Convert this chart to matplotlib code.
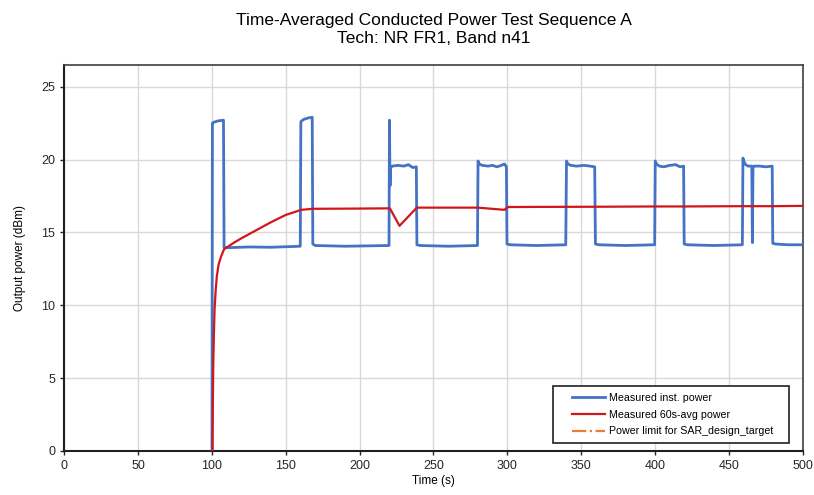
import matplotlib
matplotlib.use("Agg")
import matplotlib.pyplot as plt
from matplotlib.legend_handler import HandlerLine2D

plt.rcParams['font.family'] = ['Liberation Sans', 'DejaVu Sans']

# measured instantaneous power (time in s, power in dBm)
inst_t = [100, 100.3, 101, 104, 107.8, 108.2, 110, 125, 140, 159.8,
          160.2, 162, 165, 167.9, 168.3, 170, 190, 219.9,
          220.2, 220.6, 221, 221.5, 222, 226, 230, 233, 236, 238.4,
          238.8, 241, 260, 279.8,
          280.2, 281, 283, 287, 290, 293, 296, 298, 299.4,
          299.8, 302, 320, 339.6,
          340.1, 341, 343, 347, 352, 356, 359.2,
          359.7, 362, 380, 399.8,
          400.2, 401, 403, 406, 410, 414, 417, 419.4,
          419.8, 422, 440, 459.2,
          459.6, 460.5, 461.5, 463, 465.6, 466, 466.4, 467, 471, 475, 479.4,
          479.8, 482, 490, 500]
inst_p = [0, 22.5, 22.55, 22.65, 22.7, 13.95, 13.95, 14.0, 13.98, 14.05,
          22.6, 22.75, 22.85, 22.9, 14.2, 14.1, 14.05, 14.1,
          22.7, 18.2, 19.4, 19.5, 19.55, 19.6, 19.55, 19.65, 19.45, 19.5,
          14.15, 14.1, 14.05, 14.1,
          19.9, 19.7, 19.6, 19.55, 19.6, 19.5, 19.6, 19.7, 19.5,
          14.2, 14.15, 14.1, 14.15,
          19.9, 19.7, 19.6, 19.55, 19.6, 19.55, 19.5,
          14.2, 14.15, 14.1, 14.15,
          19.9, 19.7, 19.55, 19.5, 19.6, 19.65, 19.5, 19.55,
          14.2, 14.15, 14.1, 14.15,
          20.1, 19.8, 19.65, 19.55, 19.55, 14.3, 19.5, 19.55, 19.55, 19.5, 19.55,
          14.25, 14.2, 14.15, 14.15]

# measured 60s-average power
avg_t = [100.4, 100.6, 100.9, 101.3, 101.8, 102.5, 103.3, 104.5, 106, 108.2,
         115, 120, 130, 140, 150, 160.5, 168.3, 190, 220.5,
         227, 238.7, 260, 280, 298, 300.5, 320, 360, 400, 420, 460, 480, 500]
avg_p = [0, 3.5, 6, 8, 9.8, 11, 12, 12.8, 13.3, 13.85,
         14.3, 14.6, 15.15, 15.7, 16.2, 16.55, 16.62, 16.63, 16.65,
         15.45, 16.7, 16.7, 16.7, 16.55, 16.74, 16.75, 16.76, 16.78, 16.78, 16.8, 16.8, 16.82]

xticks = list(range(0, 501, 50))
yticks = list(range(0, 26, 5))

fig = plt.figure(figsize=(8.14, 4.95), dpi=100, facecolor='w')
ax = fig.add_axes([0.079, 0.089, 0.907, 0.780])

ax.plot(inst_t, inst_p, color='#4472C4', lw=2.0, label='Measured inst. power', zorder=3)
ax.plot(avg_t, avg_p, color='#D0161B', lw=1.6, label='Measured 60s-avg power', zorder=4)
ax.plot([], [], color='#ED7D31', lw=1.6, ls='-.', label='Power limit for SAR_design_target')

ax.set_xlim(0, 500)
ax.set_ylim(0, 26.5)
ax.set_xticks(xticks)
ax.set_yticks(yticks)
ax.grid(True, color='#d9d9d9', lw=1)
ax.set_axisbelow(True)
ax.tick_params(labelsize=9, length=3, width=1, colors='#262626', direction='out')

for s in ['left', 'bottom']:
    ax.spines[s].set_color('#202020')
    ax.spines[s].set_linewidth(1.5)
for s in ['top', 'right']:
    ax.spines[s].set_color('#404040')
    ax.spines[s].set_linewidth(1.2)

ax.set_xlabel('Time (s)', fontsize=8.5, labelpad=2)
ax.set_ylabel('Output power (dBm)', fontsize=8.5, labelpad=11)
ax.set_title('Time-Averaged Conducted Power Test Sequence A\nTech: NR FR1, Band n41',
             fontsize=12.5, pad=16, linespacing=1.25)

# legend box stretched to the reference size, handles shifted right
leg = ax.legend(loc='lower left', bbox_to_anchor=(0.662, 0.02, 0.320, 0.148),
                mode='expand', borderaxespad=0, fontsize=7.7,
                fancybox=False, framealpha=1, edgecolor='#202020',
                handlelength=4.2, handletextpad=0.35, borderpad=0.65,
                labelspacing=0.62,
                handler_map={plt.Line2D: HandlerLine2D(xpad=1.15)})
leg.get_frame().set_linewidth(1.2)

fig.savefig('out.png', dpi=100)
